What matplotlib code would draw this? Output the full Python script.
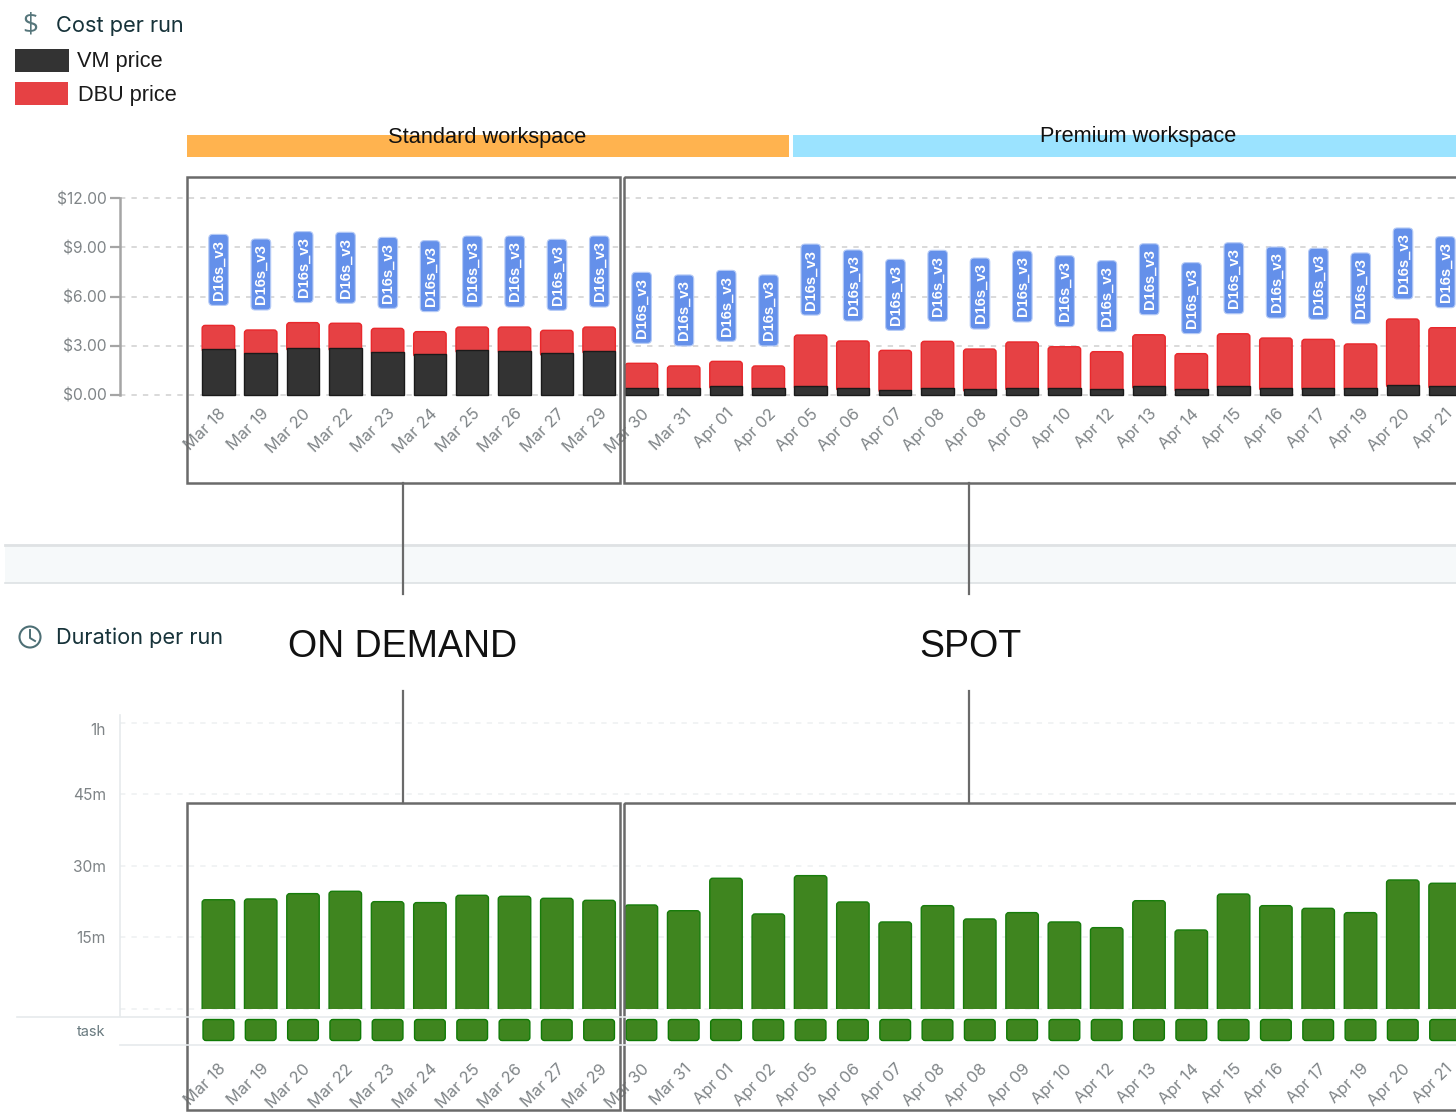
import matplotlib
matplotlib.use('Agg')
import matplotlib.pyplot as plt
from matplotlib.patches import FancyBboxPatch, Rectangle, Circle

W, H = 1456, 1115

dias = ['Mar 18', 'Mar 19', 'Mar 20', 'Mar 22', 'Mar 23', 'Mar 24', 'Mar 25', 'Mar 26', 'Mar 27', 'Mar 29',
        'Mar 30', 'Mar 31', 'Apr 01', 'Apr 02', 'Apr 05', 'Apr 06', 'Apr 07', 'Apr 08', 'Apr 08', 'Apr 09',
        'Apr 10', 'Apr 12', 'Apr 13', 'Apr 14', 'Apr 15', 'Apr 16', 'Apr 17', 'Apr 19', 'Apr 20', 'Apr 21']

vm_price = [2.80, 2.58, 2.86, 2.84, 2.64, 2.50, 2.72, 2.70, 2.54, 2.68,
            0.43, 0.43, 0.53, 0.43, 0.53, 0.43, 0.32, 0.43, 0.35, 0.43,
            0.41, 0.37, 0.53, 0.35, 0.55, 0.44, 0.44, 0.43, 0.63, 0.55]

dbu_price = [1.44, 1.38, 1.55, 1.53, 1.42, 1.36, 1.42, 1.44, 1.40, 1.46,
             1.50, 1.34, 1.52, 1.34, 3.12, 2.86, 2.40, 2.84, 2.45, 2.80,
             2.53, 2.27, 3.14, 2.17, 3.18, 3.03, 2.95, 2.68, 4.00, 3.55]

duracion = [22.9, 23.06, 24.18, 24.67, 22.5, 22.3, 23.83, 23.62, 23.2, 22.78,
            21.8, 20.6, 27.4, 19.92, 27.95, 22.43, 18.24, 21.66, 18.87, 20.2,
            18.24, 17.05, 22.7, 16.56, 24.1, 21.66, 21.1, 20.2, 27.04, 26.35]

tareas = [1] * len(dias)
tipo_vm = ['D16s_v3'] * len(dias)

cost_ticks = [0, 3, 6, 9, 12]
cost_labels = ['$0.00', '$3.00', '$6.00', '$9.00', '$12.00']
dur_ticks = [0, 15, 30, 45, 60]
dur_labels = ['', '15m', '30m', '45m', '1h']

UI_FONT = 'Inter'
ANNOT_FONT = 'Liberation Sans'
GRIS = '#7f8487'
FRAME = '#6a6a6a'

# posicion de las barras: centro de la primera y paso entre barras, en pixeles
X0, PASO = 218.4, 42.3
XLIM = ((120 - X0) / PASO, (W - X0) / PASO)
ANCHO = 0.768

fig = plt.figure(figsize=(W / 100, H / 100), dpi=100)


def ejes_px(left, top, right, bottom):
    return fig.add_axes([left / W, 1 - bottom / H, (right - left) / W, (bottom - top) / H])


def barra_redonda(ax, x, alto, ancho, color, borde, y0=0, radio_px=3, clip=True):
    # rectangulo con esquinas redondeadas, el radio se da en pixeles
    bb = ax.get_window_extent()
    xpx = bb.width / (ax.get_xlim()[1] - ax.get_xlim()[0])
    ypx = bb.height / (ax.get_ylim()[1] - ax.get_ylim()[0])
    r = radio_px / xpx
    extra = radio_px / ypx if clip else 0  # la parte de abajo queda tapada o cortada por el eje
    p = FancyBboxPatch((x - ancho / 2, y0 - extra), ancho, alto + extra,
                       boxstyle='round,pad=0,rounding_size=%f' % r,
                       mutation_aspect=xpx / ypx, fc=color, ec=borde, lw=1, zorder=3)
    ax.add_patch(p)
    if not clip:
        p.set_clip_on(False)


def base_ejes(ax, ticks, labels):
    ax.set_xlim(*XLIM)
    ax.set_ylim(ticks[0], ticks[-1])
    ax.set_facecolor('none')
    for s in ax.spines.values():
        s.set_visible(False)
    ax.set_xticks([])
    ax.set_yticks(ticks)
    ax.set_yticklabels(labels, fontsize=11.2, color=GRIS, family=UI_FONT)


# Costo por corrida
ax1 = ejes_px(120, 198, W, 395)
base_ejes(ax1, cost_ticks, cost_labels)
ax1.tick_params(axis='y', length=7, width=1.6, color='#a5a5a5', pad=2.5)
ax1.grid(axis='y', ls=(0, (3.5, 4)), color='#cfcfcf', lw=1.1, clip_on=False)
ax1.set_axisbelow(True)
for i in range(len(dias)):
    barra_redonda(ax1, i, dbu_price[i], ANCHO, '#E64144', '#E9282C', y0=vm_price[i])
ax1.bar(range(len(dias)), vm_price, ANCHO, color='#333333', edgecolor='#1a1a1a', lw=1, zorder=4, clip_on=False)
ax1.spines['left'].set_visible(True)
ax1.spines['left'].set_color('#a5a5a5')
ax1.spines['left'].set_linewidth(1.8)
ax1.set_xticks(range(len(dias)))
ax1.set_xticklabels(dias, rotation=45, ha='right', va='top', rotation_mode='anchor',
                    fontsize=11.8, color=GRIS, family=UI_FONT)
ax1.tick_params(axis='x', length=0, pad=8)

# Duracion por corrida
ax2 = ejes_px(120, 722.7, W, 1009)
base_ejes(ax2, dur_ticks, dur_labels)
ax2.tick_params(axis='y', length=0, pad=10)
ax2.grid(axis='y', ls=(0, (3.5, 4)), color='#eef0f1', lw=1.1, clip_on=False)
ax2.set_axisbelow(True)
ax2.get_yticklabels()[-1].set_verticalalignment('top')
for i, d in enumerate(duracion):
    barra_redonda(ax2, i, d, ANCHO, '#3F851F', '#177C0B')

# Fila de tareas
ax3 = ejes_px(120, 1019.5, W, 1040.5)
ax3.set_xlim(*XLIM)
ax3.set_ylim(0, 1)
ax3.set_facecolor('none')
for s in ax3.spines.values():
    s.set_visible(False)
ax3.set_yticks([])
for i, t in enumerate(tareas):
    barra_redonda(ax3, i, t, 0.726, '#3F851F', '#0F7A05', clip=False)
ax3.set_xticks(range(len(dias)))
ax3.set_xticklabels(dias, rotation=45, ha='right', va='top', rotation_mode='anchor',
                    fontsize=11.8, color=GRIS, family=UI_FONT)
ax3.tick_params(axis='x', length=0, pad=15)

# Capa en pixeles para encabezados, cuadros y etiquetas
ov = fig.add_axes([0, 0, 1, 1], zorder=10)
ov.set_xlim(0, W)
ov.set_ylim(H, 0)
ov.axis('off')

# etiquetas del tipo de VM, siempre 20 px arriba de cada barra
fig.canvas.draw()
for i in range(len(dias)):
    xd, yd = ax1.transData.transform((i, vm_price[i] + dbu_price[i]))
    yp = H - yd - 20
    ov.add_patch(FancyBboxPatch((xd - 9.6, yp - 71), 19.6, 71, boxstyle='round,pad=0,rounding_size=4',
                                fc='#6490EA', ec='#B6CBF6', lw=0.8))
    ov.text(xd + 0.5, yp - 35.5, tipo_vm[i], rotation=90, ha='center', va='center', color='white',
            fontsize=10.6, family=ANNOT_FONT, weight='bold')

# leyenda y titulos
ov.text(56, 26, 'Cost per run', fontsize=15.7, family=UI_FONT, color='#17333a', va='center')
ov.text(30, 25, '$', fontsize=20, family='Open Sans', color='#56767b', va='center', ha='center')
ov.add_patch(Rectangle((15, 49), 54, 23, fc='#333333', ec='none'))
ov.add_patch(Rectangle((15, 82), 53, 23, fc='#E64144', ec='none'))
ov.text(77, 62, 'VM price', fontsize=15.7, family=ANNOT_FONT, color='#1a1a1a', va='center')
ov.text(78, 95.5, 'DBU price', fontsize=15.7, family=ANNOT_FONT, color='#1a1a1a', va='center')

ov.text(56, 638, 'Duration per run', fontsize=15.7, family=UI_FONT, color='#17333a', va='center')
ov.add_patch(Circle((30, 637), 10.5, fc='none', ec='#4d6f75', lw=1.5))
ov.plot([30, 30, 35], [630, 638, 641], color='#4d6f75', lw=1.4)

# franjas de workspace
ov.add_patch(Rectangle((187, 135), 602, 22, fc='#FFB34F', ec='none'))
ov.add_patch(Rectangle((793, 135), 663, 22, fc='#9BE3FF', ec='none'))
ov.text(487, 137.5, 'Standard workspace', fontsize=15.7, family=ANNOT_FONT, color='#111111', ha='center', va='center')
ov.text(1138, 136.5, 'Premium workspace', fontsize=15.7, family=ANNOT_FONT, color='#111111', ha='center', va='center')

# banda gris entre los dos graficos
ov.add_patch(Rectangle((5, 544), W - 5, 39, fc='#f6f9fa', ec='none'))
ov.plot([5, W], [544.5, 544.5], color='#dfe2e4', lw=2)
ov.plot([5, W], [583, 583], color='#dde2e4', lw=1.2)

# lineas de la fila de tareas y eje de duracion
ov.plot([120, 120], [715, 1016], color='#e6eaec', lw=1.2)
ov.plot([17, W], [1016.5, 1016.5], color='#e6eaec', lw=1.2)
ov.plot([120, W], [1045, 1045], color='#e6eaec', lw=1.2)
ov.text(105, 1032, 'task', fontsize=10.5, family=UI_FONT, color='#68797e', ha='right', va='center')

# cuadros ON DEMAND / SPOT
for x0, x1, y0, y1 in [(187, 620, 177, 483), (624, W + 5, 177, 483), (187, 620, 803, 1110), (624, W + 5, 803, 1110)]:
    ov.add_patch(Rectangle((x0, y0), x1 - x0, y1 - y0, fc='none', ec=FRAME, lw=1.8))
for x in [402.5, 969]:
    ov.plot([x, x], [483, 594], color=FRAME, lw=1.6)
    ov.plot([x, x], [691, 803], color=FRAME, lw=1.6)
ov.text(403, 647, 'ON DEMAND', fontsize=27, family=ANNOT_FONT, color='#111111', ha='center', va='center')
ov.text(970, 647, 'SPOT', fontsize=27, family=ANNOT_FONT, color='#111111', ha='center', va='center')

plt.savefig('out.png', dpi=100)
